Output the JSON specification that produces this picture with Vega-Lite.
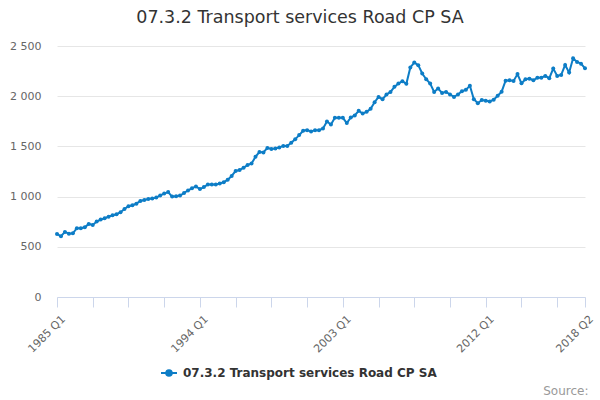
{
  "$schema": "https://vega.github.io/schema/vega-lite/v6.json",
  "width": 528,
  "height": 251,
  "autosize": "none",
  "padding": {"left": 57, "top": 46, "right": 15, "bottom": 103},
  "background": "white",
  "config": {"font": "DejaVu Sans", "view": {"stroke": null}},
  "title": {
    "text": "07.3.2 Transport services Road CP SA",
    "fontSize": 17.5,
    "fontWeight": "normal",
    "color": "#333333",
    "dx": -21,
    "offset": 14
  },
  "data": {
    "values": [
      {"period": "1985 Q1", "value": 628}, {"period": "1985 Q2", "value": 605}, {"period": "1985 Q3", "value": 648}, {"period": "1985 Q4", "value": 631},
      {"period": "1986 Q1", "value": 635}, {"period": "1986 Q2", "value": 685}, {"period": "1986 Q3", "value": 685}, {"period": "1986 Q4", "value": 695},
      {"period": "1987 Q1", "value": 728}, {"period": "1987 Q2", "value": 718}, {"period": "1987 Q3", "value": 751}, {"period": "1987 Q4", "value": 771},
      {"period": "1988 Q1", "value": 784}, {"period": "1988 Q2", "value": 800}, {"period": "1988 Q3", "value": 814}, {"period": "1988 Q4", "value": 824},
      {"period": "1989 Q1", "value": 844}, {"period": "1989 Q2", "value": 877}, {"period": "1989 Q3", "value": 904}, {"period": "1989 Q4", "value": 914},
      {"period": "1990 Q1", "value": 930}, {"period": "1990 Q2", "value": 957}, {"period": "1990 Q3", "value": 967}, {"period": "1990 Q4", "value": 977},
      {"period": "1991 Q1", "value": 980}, {"period": "1991 Q2", "value": 990}, {"period": "1991 Q3", "value": 1012}, {"period": "1991 Q4", "value": 1030},
      {"period": "1992 Q1", "value": 1045}, {"period": "1992 Q2", "value": 1000}, {"period": "1992 Q3", "value": 1003}, {"period": "1992 Q4", "value": 1010},
      {"period": "1993 Q1", "value": 1036}, {"period": "1993 Q2", "value": 1062}, {"period": "1993 Q3", "value": 1082}, {"period": "1993 Q4", "value": 1101},
      {"period": "1994 Q1", "value": 1075}, {"period": "1994 Q2", "value": 1095}, {"period": "1994 Q3", "value": 1121}, {"period": "1994 Q4", "value": 1121},
      {"period": "1995 Q1", "value": 1121}, {"period": "1995 Q2", "value": 1131}, {"period": "1995 Q3", "value": 1144}, {"period": "1995 Q4", "value": 1167},
      {"period": "1996 Q1", "value": 1206}, {"period": "1996 Q2", "value": 1255}, {"period": "1996 Q3", "value": 1265}, {"period": "1996 Q4", "value": 1288},
      {"period": "1997 Q1", "value": 1314}, {"period": "1997 Q2", "value": 1330}, {"period": "1997 Q3", "value": 1396}, {"period": "1997 Q4", "value": 1445},
      {"period": "1998 Q1", "value": 1440}, {"period": "1998 Q2", "value": 1485}, {"period": "1998 Q3", "value": 1474}, {"period": "1998 Q4", "value": 1480},
      {"period": "1999 Q1", "value": 1490}, {"period": "1999 Q2", "value": 1505}, {"period": "1999 Q3", "value": 1503}, {"period": "1999 Q4", "value": 1536},
      {"period": "2000 Q1", "value": 1570}, {"period": "2000 Q2", "value": 1613}, {"period": "2000 Q3", "value": 1656}, {"period": "2000 Q4", "value": 1662},
      {"period": "2001 Q1", "value": 1649}, {"period": "2001 Q2", "value": 1662}, {"period": "2001 Q3", "value": 1662}, {"period": "2001 Q4", "value": 1679},
      {"period": "2002 Q1", "value": 1748}, {"period": "2002 Q2", "value": 1718}, {"period": "2002 Q3", "value": 1785}, {"period": "2002 Q4", "value": 1785},
      {"period": "2003 Q1", "value": 1785}, {"period": "2003 Q2", "value": 1732}, {"period": "2003 Q3", "value": 1788}, {"period": "2003 Q4", "value": 1808},
      {"period": "2004 Q1", "value": 1854}, {"period": "2004 Q2", "value": 1828}, {"period": "2004 Q3", "value": 1844}, {"period": "2004 Q4", "value": 1875},
      {"period": "2005 Q1", "value": 1940}, {"period": "2005 Q2", "value": 1993}, {"period": "2005 Q3", "value": 1970}, {"period": "2005 Q4", "value": 2017},
      {"period": "2006 Q1", "value": 2043}, {"period": "2006 Q2", "value": 2093}, {"period": "2006 Q3", "value": 2126}, {"period": "2006 Q4", "value": 2149},
      {"period": "2007 Q1", "value": 2123}, {"period": "2007 Q2", "value": 2286}, {"period": "2007 Q3", "value": 2335}, {"period": "2007 Q4", "value": 2309},
      {"period": "2008 Q1", "value": 2226}, {"period": "2008 Q2", "value": 2169}, {"period": "2008 Q3", "value": 2126}, {"period": "2008 Q4", "value": 2043},
      {"period": "2009 Q1", "value": 2076}, {"period": "2009 Q2", "value": 2033}, {"period": "2009 Q3", "value": 2043}, {"period": "2009 Q4", "value": 2017},
      {"period": "2010 Q1", "value": 1993}, {"period": "2010 Q2", "value": 2017}, {"period": "2010 Q3", "value": 2050}, {"period": "2010 Q4", "value": 2063},
      {"period": "2011 Q1", "value": 2105}, {"period": "2011 Q2", "value": 1970}, {"period": "2011 Q3", "value": 1930}, {"period": "2011 Q4", "value": 1962},
      {"period": "2012 Q1", "value": 1955}, {"period": "2012 Q2", "value": 1948}, {"period": "2012 Q3", "value": 1965}, {"period": "2012 Q4", "value": 2005},
      {"period": "2013 Q1", "value": 2045}, {"period": "2013 Q2", "value": 2155}, {"period": "2013 Q3", "value": 2159}, {"period": "2013 Q4", "value": 2152},
      {"period": "2014 Q1", "value": 2220}, {"period": "2014 Q2", "value": 2128}, {"period": "2014 Q3", "value": 2169}, {"period": "2014 Q4", "value": 2175},
      {"period": "2015 Q1", "value": 2159}, {"period": "2015 Q2", "value": 2185}, {"period": "2015 Q3", "value": 2185}, {"period": "2015 Q4", "value": 2202},
      {"period": "2016 Q1", "value": 2179}, {"period": "2016 Q2", "value": 2275}, {"period": "2016 Q3", "value": 2202}, {"period": "2016 Q4", "value": 2212},
      {"period": "2017 Q1", "value": 2311}, {"period": "2017 Q2", "value": 2235}, {"period": "2017 Q3", "value": 2377}, {"period": "2017 Q4", "value": 2341},
      {"period": "2018 Q1", "value": 2324}, {"period": "2018 Q2", "value": 2278}
    ]
  },
  "encoding": {
    "x": {
      "field": "period",
      "type": "ordinal",
      "sort": null,
      "scale": {"type": "point", "padding": 0},
      "axis": {
        "title": "Source:",
        "titleFontSize": 12,
        "titleFontWeight": "normal",
        "titleColor": "#999999",
        "titleAnchor": "end",
        "titleAlign": "right",
        "titleBaseline": "middle",
        "titleX": 531,
        "titleY": 93,
        "values": ["1985 Q1", "1987 Q2", "1989 Q3", "1991 Q4", "1994 Q1", "1996 Q2", "1998 Q3", "2000 Q4", "2003 Q1", "2005 Q2", "2007 Q3", "2009 Q4", "2012 Q1", "2014 Q2", "2016 Q3", "2018 Q2"],
        "labelExpr": "indexof(['1985 Q1', '1994 Q1', '2003 Q1', '2012 Q1', '2018 Q2'], datum.value) >= 0 ? datum.value : ''",
        "labelAngle": -45,
        "labelFontSize": 11,
        "labelColor": "#666666",
        "labelOverlap": false,
        "labelBound": false,
        "labelPadding": 6,
        "labelOffset": 2,
        "domainColor": "#ccd6eb",
        "tickColor": "#ccd6eb",
        "tickSize": 10,
        "grid": false
      }
    },
    "y": {
      "field": "value",
      "type": "quantitative",
      "scale": {"domain": [0, 2500]},
      "axis": {
        "title": null,
        "values": [0, 500, 1000, 1500, 2000, 2500],
        "labelExpr": "replace(format(datum.value, ','), ',', ' ')",
        "domain": false,
        "ticks": false,
        "labelPadding": 16,
        "labelFontSize": 11,
        "labelColor": "#666666",
        "gridColor": "#e6e6e6"
      }
    },
    "color": {
      "datum": "07.3.2 Transport services Road CP SA",
      "scale": {"range": ["#0d7dc6"]},
      "legend": {
        "orient": "none",
        "legendX": 103,
        "legendY": 318,
        "title": null,
        "padding": 0,
        "symbolType": "M-1,0L1,0M-0.35,0A0.35,0.35 0 1,1 0.35,0A0.35,0.35 0 1,1 -0.35,0Z",
        "symbolSize": 256,
        "symbolStrokeWidth": 2,
        "symbolFillColor": "#0d7dc6",
        "symbolStrokeColor": "#0d7dc6",
        "labelFontSize": 12,
        "labelFontWeight": "bold",
        "labelColor": "#333333",
        "labelOffset": 5,
        "labelLimit": 0
      }
    }
  },
  "layer": [
    {"mark": {"type": "line", "strokeWidth": 2}},
    {"mark": {"type": "point", "filled": true, "size": 16, "opacity": 1}}
  ]
}
